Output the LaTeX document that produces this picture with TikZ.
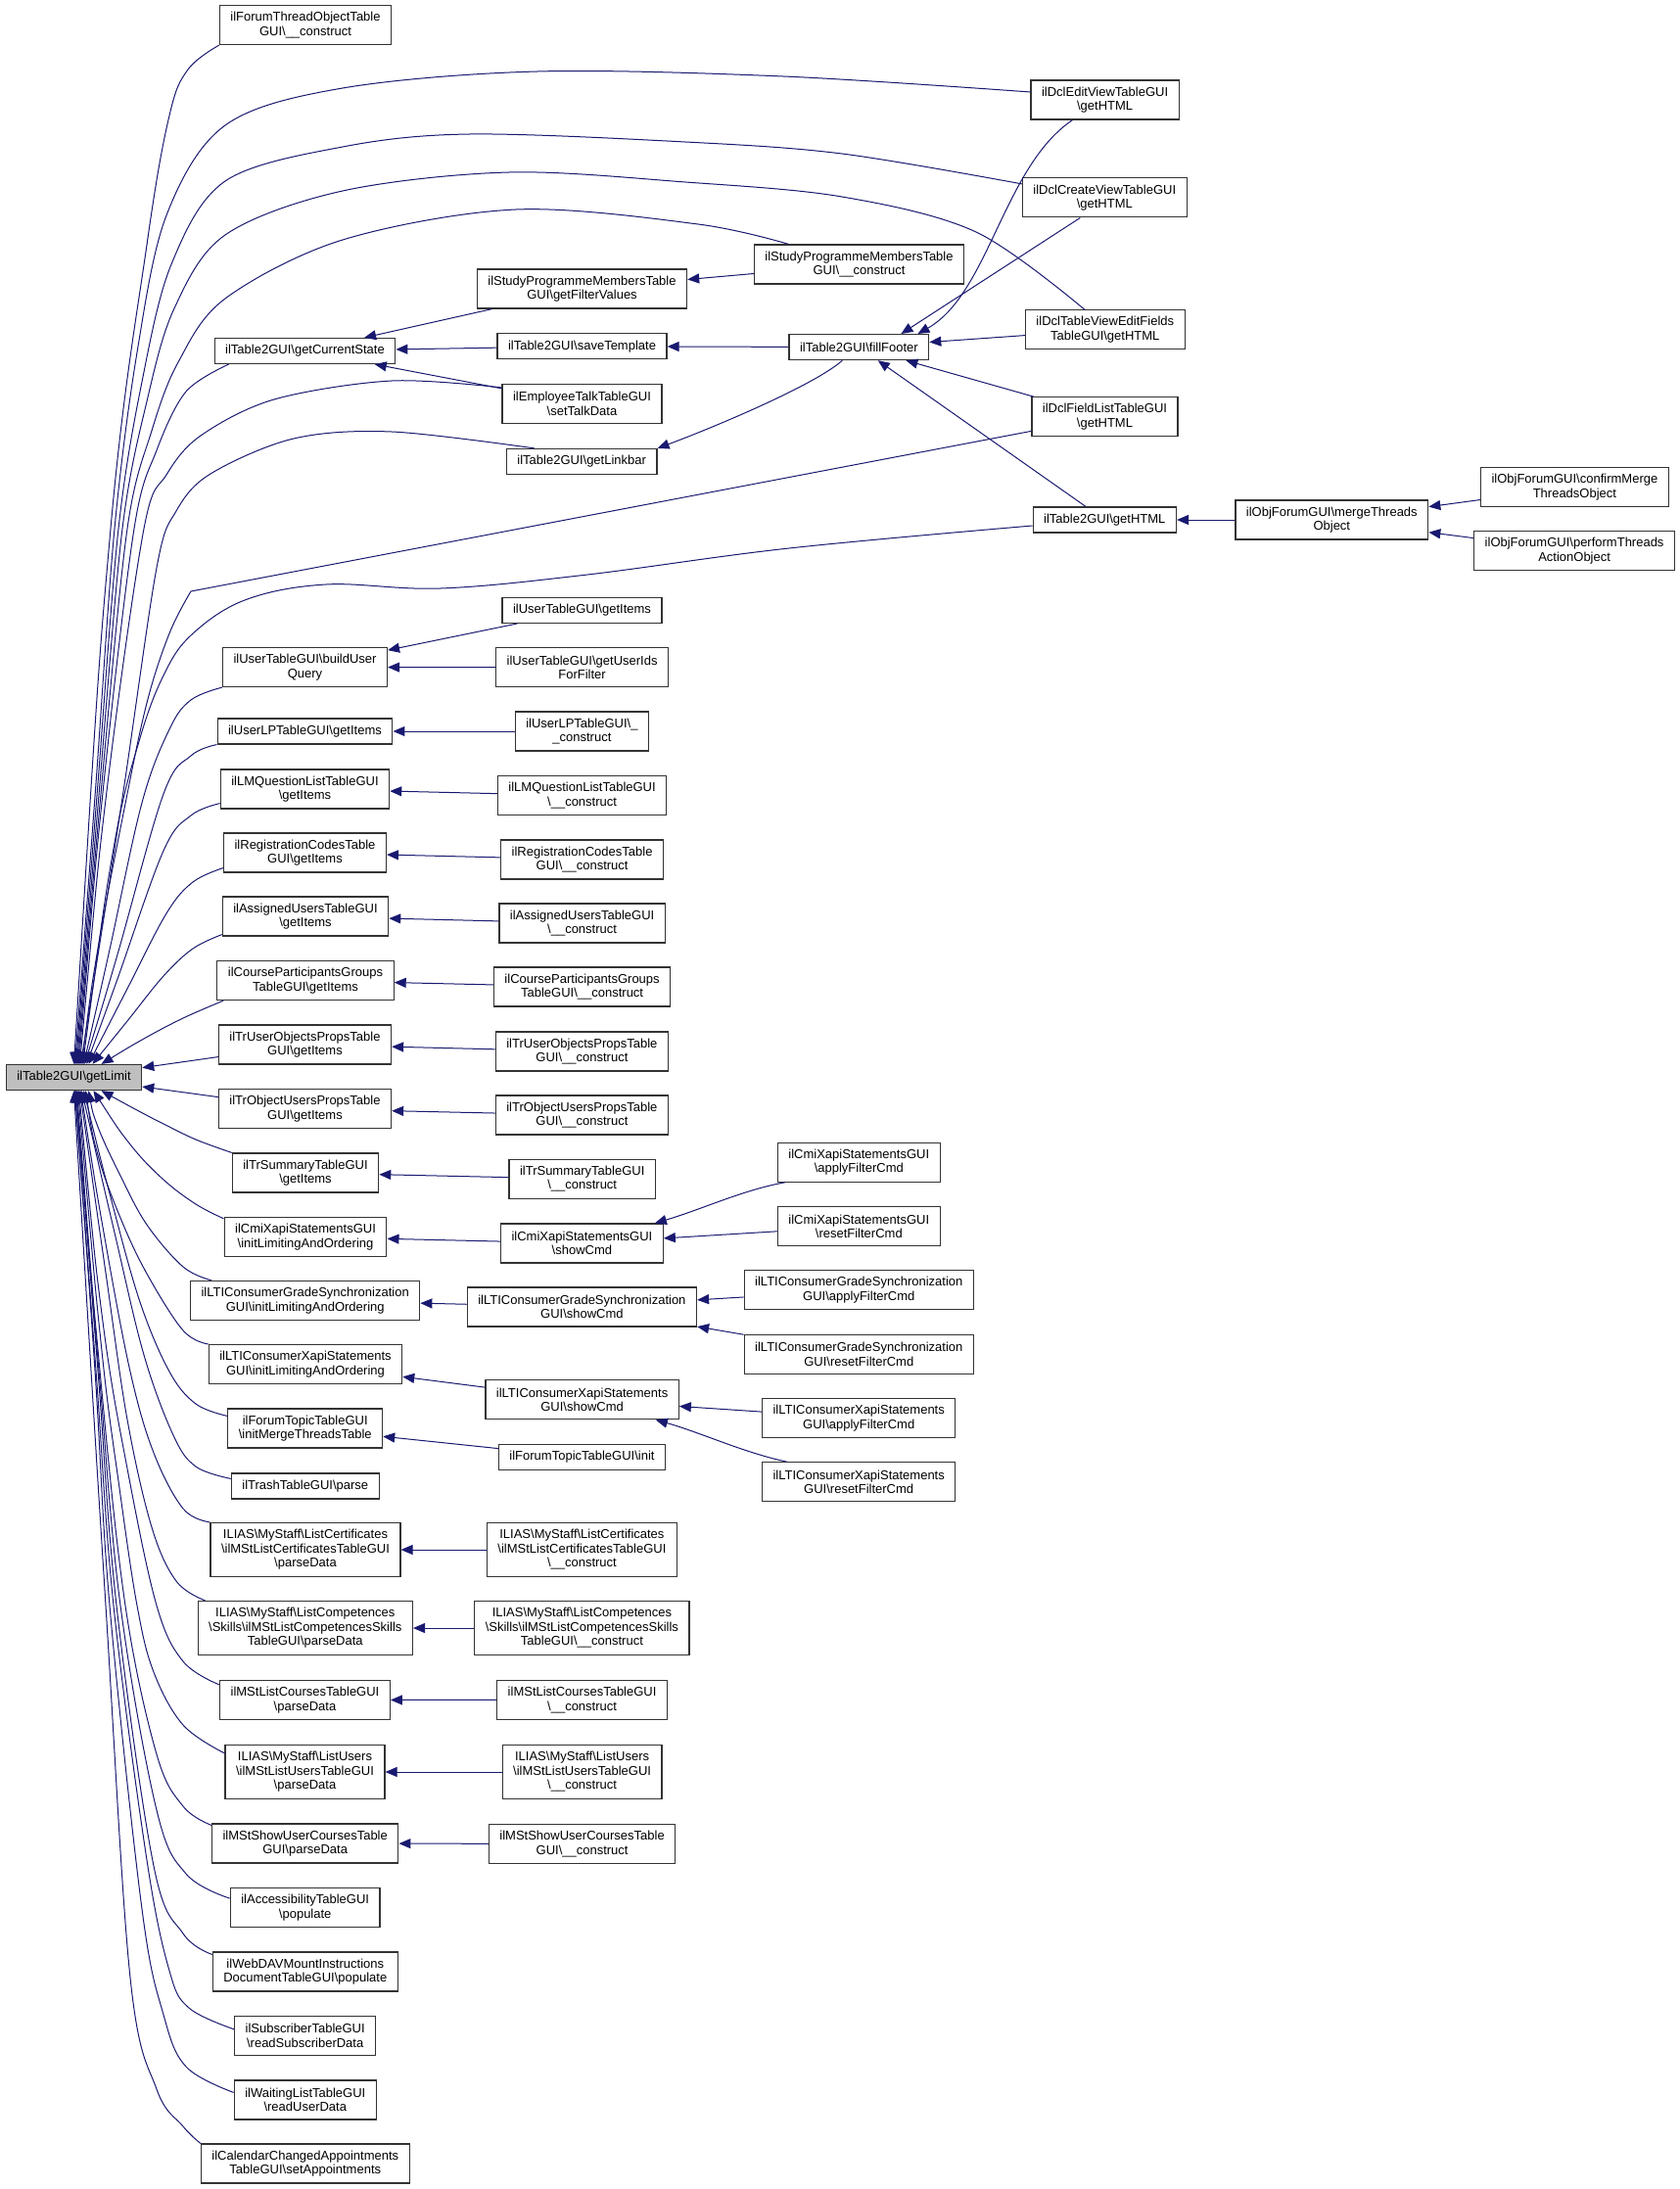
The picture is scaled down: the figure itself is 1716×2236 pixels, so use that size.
\documentclass[tikz,border=0pt]{standalone}
\usepackage{fontspec}
\setmainfont{Liberation Sans}
\usetikzlibrary{arrows.meta,calc}
\definecolor{edgeblue}{HTML}{191970}
\definecolor{focusgray}{HTML}{BFBFBF}
\newcommand{\bksl}{\textbackslash}

\tikzset{
  fnbox/.style={draw=black!80, line width=0.6pt, fill=white, align=center,
    inner xsep=5.5pt, inner ysep=1pt, minimum height=13pt,
    font=\fontsize{6.5pt}{7.25pt}\selectfont},
  fnbox2/.style={fnbox, minimum height=20pt},
  fnbox3/.style={fnbox, minimum height=27.5pt},
  focus/.style={fnbox, fill=focusgray},
  call/.style={<-, draw=edgeblue, line width=0.5pt},
  >={Triangle[length=6pt,width=5pt]}
}

\begin{document}
\begin{tikzpicture}[x=0.5pt,y=-0.5pt]
			\path[use as bounding box] (0,0) rectangle (1716,2236);
			
			%%%%% called function %%%%%
			\node[focus] (lim) at (75.5,1100.5) {ilTable2GUI\bksl getLimit};
			
			%%%%% first column %%%%%
			\node[fnbox2] (ftcons) at (312,25.5) {ilForumThreadObjectTable\\GUI\bksl\_\_construct};
			\node[fnbox] (getcs) at (311.5,358.5) {ilTable2GUI\bksl getCurrentState};
			\node[fnbox2] (buq) at (311.5,681.5) {ilUserTableGUI\bksl buildUser\\Query};
			\node[fnbox] (ulp) at (311.5,747) {ilUserLPTableGUI\bksl getItems};
			\node[fnbox2] (lmq) at (311.5,806) {ilLMQuestionListTableGUI\\\bksl getItems};
			\node[fnbox2] (regc) at (311.5,871) {ilRegistrationCodesTable\\GUI\bksl getItems};
			\node[fnbox2] (asg) at (312,936) {ilAssignedUsersTableGUI\\\bksl getItems};
			\node[fnbox2] (cpg) at (312,1001.5) {ilCourseParticipantsGroups\\TableGUI\bksl getItems};
			\node[fnbox2] (truo) at (311.5,1067) {ilTrUserObjectsPropsTable\\GUI\bksl getItems};
			\node[fnbox2] (trou) at (311.5,1132.7) {ilTrObjectUsersPropsTable\\GUI\bksl getItems};
			\node[fnbox2] (trs) at (312,1198) {ilTrSummaryTableGUI\\\bksl getItems};
			\node[fnbox2] (cmiinit) at (312,1263.4) {ilCmiXapiStatementsGUI\\\bksl initLimitingAndOrdering};
			\node[fnbox2] (ltiginit) at (311.7,1328.4) {ilLTIConsumerGradeSynchronization\\GUI\bksl initLimitingAndOrdering};
			\node[fnbox2] (ltixinit) at (312,1393.6) {ilLTIConsumerXapiStatements\\GUI\bksl initLimitingAndOrdering};
			\node[fnbox2] (ftinit) at (311.7,1459) {ilForumTopicTableGUI\\\bksl initMergeThreadsTable};
			\node[fnbox] (trash) at (311.8,1518) {ilTrashTableGUI\bksl parse};
			\node[fnbox3] (lcert) at (312,1583) {ILIAS\bksl MyStaff\bksl ListCertificates\\\bksl ilMStListCertificatesTableGUI\\\bksl parseData};
			\node[fnbox3] (lcomp) at (311.8,1663) {ILIAS\bksl MyStaff\bksl ListCompetences\\\bksl Skills\bksl ilMStListCompetencesSkills\\TableGUI\bksl parseData};
			\node[fnbox2] (mlc) at (311.5,1736.5) {ilMStListCoursesTableGUI\\\bksl parseData};
			\node[fnbox3] (lusr) at (311.5,1810) {ILIAS\bksl MyStaff\bksl ListUsers\\\bksl ilMStListUsersTableGUI\\\bksl parseData};
			\node[fnbox2] (msuc) at (311.7,1883) {ilMStShowUserCoursesTable\\GUI\bksl parseData};
			\node[fnbox2] (acc) at (311.7,1948.7) {ilAccessibilityTableGUI\\\bksl populate};
			\node[fnbox2] (webdav) at (311.8,2014) {ilWebDAVMountInstructions\\DocumentTableGUI\bksl populate};
			\node[fnbox2] (subs) at (311.7,2079.4) {ilSubscriberTableGUI\\\bksl readSubscriberData};
			\node[fnbox2] (wait) at (311.8,2145) {ilWaitingListTableGUI\\\bksl readUserData};
			\node[fnbox2] (cal) at (311.8,2210) {ilCalendarChangedAppointments\\TableGUI\bksl setAppointments};
			
			%%%%% second column %%%%%
			\node[fnbox2] (gfv) at (594.5,295) {ilStudyProgrammeMembersTable\\GUI\bksl getFilterValues};
			\node[fnbox] (savet) at (594.5,353.7) {ilTable2GUI\bksl saveTemplate};
			\node[fnbox2] (emp) at (594.5,412.5) {ilEmployeeTalkTableGUI\\\bksl setTalkData};
			\node[fnbox] (linkbar) at (594.2,471.5) {ilTable2GUI\bksl getLinkbar};
			\node[fnbox] (uti) at (594.5,623.4) {ilUserTableGUI\bksl getItems};
			\node[fnbox2] (uids) at (594.6,681.8) {ilUserTableGUI\bksl getUserIds\\ForFilter};
			\node[fnbox2] (ulpc) at (594.4,747) {ilUserLPTableGUI\bksl\_\\\_construct};
			\node[fnbox2] (lmqc) at (594.6,812.7) {ilLMQuestionListTableGUI\\\bksl\_\_construct};
			\node[fnbox2] (regcc) at (594.6,877.9) {ilRegistrationCodesTable\\GUI\bksl\_\_construct};
			\node[fnbox2] (asgc) at (594.6,943) {ilAssignedUsersTableGUI\\\bksl\_\_construct};
			\node[fnbox2] (cpgc) at (594.6,1008) {ilCourseParticipantsGroups\\TableGUI\bksl\_\_construct};
			\node[fnbox2] (truoc) at (594.4,1074) {ilTrUserObjectsPropsTable\\GUI\bksl\_\_construct};
			\node[fnbox2] (trouc) at (594.4,1139) {ilTrObjectUsersPropsTable\\GUI\bksl\_\_construct};
			\node[fnbox2] (trsc) at (594.7,1204.3) {ilTrSummaryTableGUI\\\bksl\_\_construct};
			\node[fnbox2] (cmishow) at (594.4,1270) {ilCmiXapiStatementsGUI\\\bksl showCmd};
			\node[fnbox2] (ltigshow) at (594.4,1335) {ilLTIConsumerGradeSynchronization\\GUI\bksl showCmd};
			\node[fnbox2] (ltixshow) at (594.6,1429.8) {ilLTIConsumerXapiStatements\\GUI\bksl showCmd};
			\node[fnbox] (ftiinit) at (594.5,1488.5) {ilForumTopicTableGUI\bksl init};
			\node[fnbox3] (lcertc) at (594.4,1583) {ILIAS\bksl MyStaff\bksl ListCertificates\\\bksl ilMStListCertificatesTableGUI\\\bksl\_\_construct};
			\node[fnbox3] (lcompc) at (594.4,1663) {ILIAS\bksl MyStaff\bksl ListCompetences\\\bksl Skills\bksl ilMStListCompetencesSkills\\TableGUI\bksl\_\_construct};
			\node[fnbox2] (mlcc) at (594.6,1736.4) {ilMStListCoursesTableGUI\\\bksl\_\_construct};
			\node[fnbox3] (lusrc) at (594.6,1810) {ILIAS\bksl MyStaff\bksl ListUsers\\\bksl ilMStListUsersTableGUI\\\bksl\_\_construct};
			\node[fnbox2] (msucc) at (594.6,1883.4) {ilMStShowUserCoursesTable\\GUI\bksl\_\_construct};
			
			%%%%% third column %%%%%
			\node[fnbox2] (spcons) at (877.5,270) {ilStudyProgrammeMembersTable\\GUI\bksl\_\_construct};
			\node[fnbox] (ff) at (877.4,354.6) {ilTable2GUI\bksl fillFooter};
			\node[fnbox2] (capply) at (877.3,1187.2) {ilCmiXapiStatementsGUI\\\bksl applyFilterCmd};
			\node[fnbox2] (creset) at (877.3,1252.7) {ilCmiXapiStatementsGUI\\\bksl resetFilterCmd};
			\node[fnbox2] (ltigapply) at (877.3,1317.8) {ilLTIConsumerGradeSynchronization\\GUI\bksl applyFilterCmd};
			\node[fnbox2] (ltigreset) at (877.3,1383.3) {ilLTIConsumerGradeSynchronization\\GUI\bksl resetFilterCmd};
			\node[fnbox2] (ltixapply) at (877.2,1448.7) {ilLTIConsumerXapiStatements\\GUI\bksl applyFilterCmd};
			\node[fnbox2] (ltixreset) at (877.2,1513.8) {ilLTIConsumerXapiStatements\\GUI\bksl resetFilterCmd};
			
			%%%%% fourth and fifth column %%%%%
			\node[fnbox2] (dcledit) at (1128.6,102) {ilDclEditViewTableGUI\\\bksl getHTML};
			\node[fnbox2] (dclcreate) at (1128.3,201.9) {ilDclCreateViewTableGUI\\\bksl getHTML};
			\node[fnbox2] (dcltv) at (1128.8,336.8) {ilDclTableViewEditFields\\TableGUI\bksl getHTML};
			\node[fnbox2] (dclfl) at (1128.5,425.8) {ilDclFieldListTableGUI\\\bksl getHTML};
			\node[fnbox] (t2html) at (1128.3,531) {ilTable2GUI\bksl getHTML};
			\node[fnbox2] (mergeth) at (1360.3,531) {ilObjForumGUI\bksl mergeThreads\\Object};
			\node[fnbox2] (confirm) at (1608.4,497.5) {ilObjForumGUI\bksl confirmMerge\\ThreadsObject};
			\node[fnbox2] (perform) at (1608.1,562.8) {ilObjForumGUI\bksl performThreads\\ActionObject};
			
			%%%%% calls into getLimit from above %%%%%
			\draw[call] plot[smooth,tension=.6] coordinates {(lim.north) (113,540) (150,250) (173,118) (192,71) (ftcons.south west)};
			\draw[call] plot[smooth,tension=.55] coordinates {([xshift=.5pt]lim.north) (98,800) (117,540) (140,360) (170,220) (230,128) (350,90) (549,73) (800,78) ([yshift=4pt]dcledit.west)};
			\draw[call] plot[smooth,tension=.55] coordinates {([xshift=1pt]lim.north) (100,800) (121,540) (145,390) (175,270) (230,185) (350,150) (480,137) (700,145) (860,157) ([yshift=7pt]dclcreate.west)};
			\draw[call] plot[smooth,tension=.55] coordinates {([xshift=1.5pt]lim.north) (102,800) (125,540) (150,410) (178,315) (230,240) (350,195) (520,176) (700,186) (860,201) (997,237) ([xshift=-10.5pt]dcltv.north)};
			\draw[call] plot[smooth,tension=.55] coordinates {([xshift=2pt]lim.north) (104,800) (130,540) (155,440) (182,370) (230,305) (350,245) (527,214) (713,229) ([xshift=-36pt]spcons.north)};
			\draw[call] plot[smooth,tension=.55] coordinates {([xshift=2.5pt]lim.north) (106,800) (137,540) (160,460) (190,400) ([xshift=7.5pt]getcs.south west)};
			\draw[call] plot[smooth,tension=.55] coordinates {([xshift=3pt]lim.north) (110,800) (147,540) (170,485) (205,445) (280,408) (400,389) ([yshift=-2pt]emp.north west)};
			\draw[call] plot[smooth,tension=.55] coordinates {([xshift=3.5pt]lim.north) (125,815) (160,580) (180,522) (215,484) (300,448) (400,441) ([xshift=14.5pt]linkbar.north west)};
			\draw[call] plot[smooth,tension=.6] coordinates {([xshift=4pt]lim.north) (100,969) (127,826) (150,718) (173,647) (195,604)} -- ([yshift=3pt]dclfl.south west);
			\draw[call] plot[smooth,tension=.6] coordinates {([xshift=4.5pt]lim.north) (117,861) (143,754) (167,690) (195,649) (250,613) (333,597) (450,601) (600,587) (806,560) ([yshift=-3pt]t2html.west)};
			\draw[call] plot[smooth,tension=.6] coordinates {([xshift=5pt]lim.north) (112,970) (145,820) (173,745) (195,715) (buq.south west)};
			\draw[call] plot[smooth,tension=.6] coordinates {([xshift=5.5pt]lim.north) (120,975) (167,811) (195,772) (ulp.south west)};
			\draw[call] plot[smooth,tension=.6] coordinates {([xshift=6.5pt]lim.north) (120,1000) (167,869) (195,833) ([yshift=3pt]lmq.south west)};
			\draw[call] plot[smooth,tension=.6] coordinates {([xshift=7.5pt]lim.north) (130,1010) (170,933) (197,901) ([yshift=2.5pt]regc.south west)};
			\draw[call] plot[smooth,tension=.6] coordinates {([xshift=9.5pt]lim.north) (130,1043) (167,997) (197,969) ([yshift=1pt]asg.south west)};
			\draw[call] plot[smooth,tension=.6] coordinates {([xshift=14pt]lim.north) (147,1061) (187,1040) ([xshift=3.5pt]cpg.south west)};
			\draw[call] (lim) -- (truo);
			\draw[call] (lim) -- (trou);
			
			%%%%% calls into getLimit from below %%%%%
			\draw[call] plot[smooth,tension=.6] coordinates {([xshift=14pt]lim.south) (140,1134) (167,1148) (200,1164) (trs.north west)};
			\draw[call] plot[smooth,tension=.6] coordinates {([xshift=10pt]lim.south) (133,1169) (167,1205) (200,1230) ([yshift=-1pt]cmiinit.north west)};
			\draw[call] plot[smooth,tension=.6] coordinates {([xshift=7.5pt]lim.south) (100,1151) (123,1201) (150,1251) (187,1294) ([xshift=11pt]ltiginit.north west)};
			\draw[call] plot[smooth,tension=.6] coordinates {([xshift=6pt]lim.south) (100,1180) (123,1244) (150,1301) (187,1359) (ltixinit.north west)};
			\draw[call] plot[smooth,tension=.6] coordinates {([xshift=5pt]lim.south) (113,1223) (143,1330) (173,1401) (200,1434) ([yshift=-4pt]ftinit.north west)};
			\draw[call] plot[smooth,tension=.6] coordinates {([xshift=4pt]lim.south) (117,1259) (147,1384) (177,1466) (200,1498) ([yshift=-3pt]trash.north west)};
			\draw[call] plot[smooth,tension=.6] coordinates {([xshift=3.5pt]lim.south) (106,1259) (133,1401) (157,1484) (187,1541) (lcert.north west)};
			\draw[call] plot[smooth,tension=.6] coordinates {([xshift=3pt]lim.south) (108,1300) (130,1450) (155,1560) (180,1615) ([xshift=4pt]lcomp.north west)};
			\draw[call] plot[smooth,tension=.6] coordinates {([xshift=2.5pt]lim.south) (105,1350) (130,1500) (160,1640) (187,1697) ([yshift=-2.5pt]mlc.north west)};
			\draw[call] plot[smooth,tension=.6] coordinates {([xshift=2pt]lim.south) (104,1380) (122,1520) (140,1640) (157,1708) (187,1762) ([yshift=-4.5pt]lusr.north west)};
			\draw[call] plot[smooth,tension=.6] coordinates {([xshift=1.5pt]lim.south) (102,1400) (128,1640) (160,1792) (187,1845) ([yshift=-1pt]msuc.north west)};
			\draw[call] plot[smooth,tension=.6] coordinates {([xshift=1pt]lim.south) (101,1400) (123,1640) (160,1849) (190,1914) ([yshift=-5.5pt]acc.north west)};
			\draw[call] plot[smooth,tension=.6] coordinates {([xshift=1pt]lim.south) (100,1400) (119,1640) (157,1906) (187,1975) ([yshift=-1.5pt]webdav.north west)};
			\draw[call] plot[smooth,tension=.6] coordinates {([xshift=.5pt]lim.south) (98,1400) (116,1640) (150,1900) (173,2013) (193,2051) ([yshift=-7pt]subs.north west)};
			\draw[call] plot[smooth,tension=.6] coordinates {([xshift=.5pt]lim.south) (97,1400) (112,1640) (145,1950) (167,2058) (190,2111) ([yshift=-6.5pt]wait.north west)};
			\draw[call] plot[smooth,tension=.6] coordinates {(lim.south) (108,1640) (133,2020) (160,2134) (187,2172) (cal.north west)};
			
			%%%%% upper right calls %%%%%
			\draw[call] (getcs) -- (gfv);
			\draw[call] (getcs) -- (savet);
			\draw[call] (getcs) -- (emp);
			\draw[call] (gfv) -- (spcons);
			\draw[call] (savet) -- (ff);
			\draw[call] (linkbar.north east) .. controls (720,440) and (830,395) .. ([xshift=-8.5pt]ff.south);
			\draw[call] ([xshift=30pt]ff.north) .. controls (1010,300) and (1025,170) .. ([xshift=21.5pt]dcledit.south west);
			\draw[call] ([xshift=21.5pt]ff.north) -- ([xshift=-12.5pt]dclcreate.south);
			\draw[call] (ff) -- (dcltv);
			\draw[call] (ff) -- (dclfl);
			\draw[call] (ff) -- (t2html);
			\draw[call] (t2html) -- (mergeth);
			\draw[call] (mergeth) -- (confirm);
			\draw[call] (mergeth) -- (perform);
			
			%%%%% lower right calls %%%%%
			\draw[call] (buq) -- (uti);
			\draw[call] (buq) -- (uids);
			\draw[call] (ulp) -- (ulpc);
			\draw[call] (lmq) -- (lmqc);
			\draw[call] (regc) -- (regcc);
			\draw[call] (asg) -- (asgc);
			\draw[call] (cpg) -- (cpgc);
			\draw[call] (truo) -- (truoc);
			\draw[call] (trou) -- (trouc);
			\draw[call] (trs) -- (trsc);
			\draw[call] (cmiinit) -- (cmishow);
			\draw[call] ([xshift=-4.5pt]cmishow.north east) .. controls (715,1236) and (760,1215) .. ([xshift=4pt]capply.south west);
			\draw[call] (cmishow) -- (creset);
			\draw[call] (ltiginit) -- (ltigshow);
			\draw[call] (ltigshow) -- (ltigapply);
			\draw[call] (ltigshow) -- (ltigreset);
			\draw[call] (ltixinit) -- (ltixshow);
			\draw[call] (ltixshow) -- (ltixapply);
			\draw[call] ([xshift=-12pt]ltixshow.south east) .. controls (715,1463) and (760,1484) .. ([xshift=13pt]ltixreset.north west);
			\draw[call] (ftinit) -- (ftiinit);
			\draw[call] (lcert) -- (lcertc);
			\draw[call] (lcomp) -- (lcompc);
			\draw[call] (mlc) -- (mlcc);
			\draw[call] (lusr) -- (lusrc);
			\draw[call] (msuc) -- (msucc);
		\end{tikzpicture}
\end{document}
